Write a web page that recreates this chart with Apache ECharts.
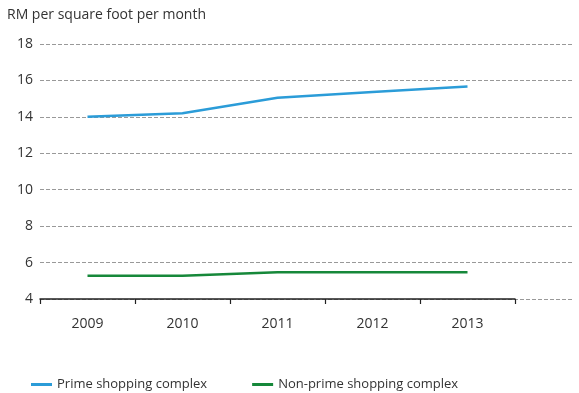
<!DOCTYPE html>
<html><head><meta charset="utf-8">
<script src="https://cdn.jsdelivr.net/npm/echarts@6/dist/echarts.min.js"></script>
<style>html,body{margin:0;padding:0;background:#fff}#c{width:579px;height:393px}</style>
</head><body><div id="c"></div>
<script>
const years = ['2009','2010','2011','2012','2013'];
const prime = [14.0, 14.2, 15.05, 15.37, 15.67];
const nonPrime = [5.27, 5.27, 5.47, 5.47, 5.47];
const yTicks = [4, 6, 8, 10, 12, 14, 16, 18];
const font = 'Open Sans';
const chart = echarts.init(document.getElementById('c'), null, {renderer:'canvas'});
chart.setOption({
  animation: false,
  textStyle: {fontFamily: font},
  title: {text: 'RM per square foot per month', left: 2, top: 3,
    textStyle: {fontSize: 14, fontWeight: 'normal', color: '#333', fontFamily: font}},
  grid: [
    {left: 40, right: 7, top: 44, bottom: 94},
    {left: 40, right: 64, top: 44, bottom: 94}
  ],
  legend: {top: 373, left: 26, itemGap: 45, itemWidth: 21, itemHeight: 3,
    icon: 'rect',
    textStyle: {fontSize: 13, color: '#333', fontFamily: font},
    data: ['Prime shopping complex', 'Non-prime shopping complex']},
  xAxis: [
    {gridIndex: 0, type: 'value', min: 0, max: 1, show: false},
    {gridIndex: 1, type: 'category', data: years, boundaryGap: true,
      axisLine: {lineStyle: {color: '#222', width: 1.5}},
      axisTick: {show: true, length: 5, lineStyle: {color: '#222', width: 1.2}},
      axisLabel: {fontSize: 14, color: '#333', margin: 18, fontFamily: font}}
  ],
  yAxis: [
    {gridIndex: 0, type: 'value', min: yTicks[0], max: yTicks[yTicks.length-1], interval: 2,
      axisLine: {show: false}, axisTick: {show: false},
      axisLabel: {fontSize: 14, color: '#333', margin: 7, fontFamily: font},
      splitLine: {show: true, lineStyle: {color: '#999', type: [4, 2], width: 1}}},
    {gridIndex: 1, type: 'value', min: yTicks[0], max: yTicks[yTicks.length-1], interval: 2,
      show: false, splitLine: {show: false}}
  ],
  series: [
    {name: 'Prime shopping complex', type: 'line', xAxisIndex: 1, yAxisIndex: 1,
      data: prime, symbol: 'none', lineStyle: {color: '#2b9cd8', width: 2.5}, itemStyle: {color: '#2b9cd8'}},
    {name: 'Non-prime shopping complex', type: 'line', xAxisIndex: 1, yAxisIndex: 1,
      data: nonPrime, symbol: 'none', lineStyle: {color: '#16883a', width: 2.5}, itemStyle: {color: '#16883a'}}
  ]
});
</script></body></html>
